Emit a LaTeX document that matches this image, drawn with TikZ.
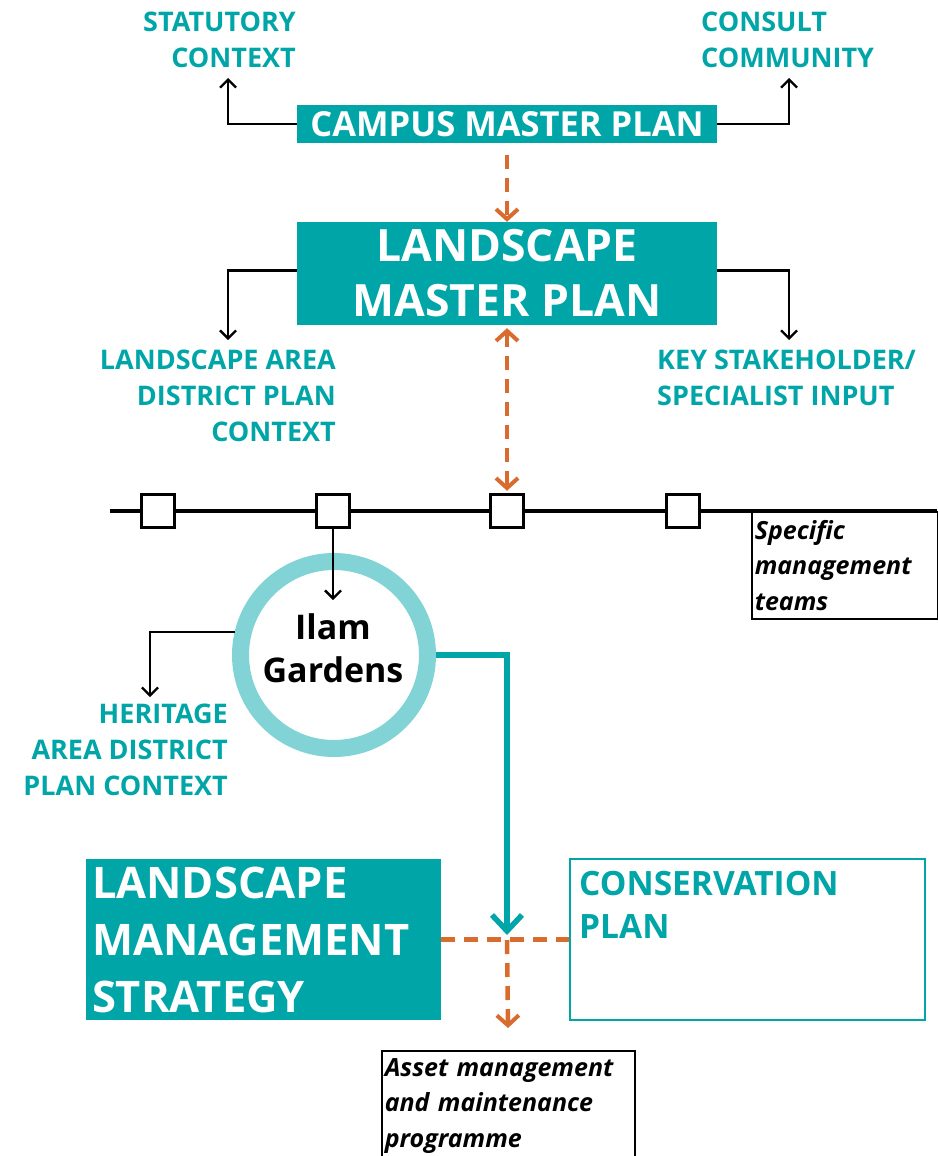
\documentclass[tikz,border=0pt]{standalone}
\usepackage{fontspec}
\setmainfont{Open Sans}
\usetikzlibrary{arrows.meta}
\definecolor{tealD}{HTML}{00A5A8}
\definecolor{tealL}{HTML}{82D3D5}
\definecolor{orng}{HTML}{DA6B2E}
\tikzset{
  tealbox/.style={fill=tealD, text=white, inner sep=0pt, font=\bfseries},
  lbl/.style={text=tealD, inner sep=0pt, font=\bfseries\fontsize{27}{36}\selectfont},
  blk/.style={draw=black, line width=2.3pt, -{Straight Barb[length=8pt,width=16pt,line width=2.3pt]}},
  ordash/.style={draw=orng, line width=4.5pt, dash pattern=on 14pt off 9pt},
  orarr/.style={ordash, -{Straight Barb[length=10pt,width=22pt,line width=4pt]}},
  sq/.style={draw=black, fill=white, line width=3.5pt, minimum size=33pt, inner sep=0pt},
  itbox/.style={draw=black, line width=1.5pt, inner sep=0pt, font=\bfseries\itshape\fontsize{25}{35.5}\selectfont},
}
\begin{document}
\begin{tikzpicture}[x=1pt,y=-1pt]
\useasboundingbox (0,0) rectangle (937,1156);
% top
\node[tealbox, minimum width=420pt, minimum height=38pt, font=\bfseries\fontsize{34.5}{40}\selectfont] (cmp) at (507,124) {CAMPUS MASTER PLAN};
\node[lbl, align=right, anchor=east] (stat) at (296,40) {STATUTORY\\CONTEXT};
\node[lbl, align=left, anchor=west] (cons1) at (701,40) {CONSULT\\COMMUNITY};
\coordinate (sa) at (228,78);
\coordinate (ca) at (789,78);
\draw[blk] (cmp.west) -| (sa);
\draw[blk] (cmp.east) -| (ca);
% landscape master plan
\node[tealbox, minimum width=420pt, minimum height=103pt, align=center, font=\bfseries\fontsize{44.5}{55}\selectfont] (lmp) at (507,273.5) {LANDSCAPE\\MASTER PLAN};
\draw[orarr, shorten <=12pt] (cmp.south) -- (lmp.north);
\node[lbl, align=right, anchor=east] (lad) at (336,396) {LANDSCAPE AREA\\DISTRICT PLAN\\CONTEXT};
\node[lbl, align=left, anchor=west] (key) at (657,378) {KEY STAKEHOLDER/\\SPECIALIST INPUT};
\coordinate (la) at (228,340);
\coordinate (ka) at (789,340);
\draw[blk] ([yshift=3pt]lmp.west) -| (la);
\draw[blk] ([yshift=3pt]lmp.east) -| (ka);
% timeline
\draw[line width=3.5pt] (110,511) -- (937,511);
\node[sq] (s1) at (158,511) {};
\node[sq] (s2) at (333,511) {};
\node[sq] (s3) at (507,511) {};
\node[sq] (s4) at (683,511) {};
\draw[ordash, {Straight Barb[length=10pt,width=22pt,line width=4pt]}-{Straight Barb[length=10pt,width=22pt,line width=4pt]}, shorten <=3pt, shorten >=2pt] (lmp.south) -- (s3.north);
\node[itbox, anchor=north west, minimum width=186pt, minimum height=107pt, align=left, text width=180pt] (smt) at (751,511) {Specific\\management\\teams};
% Ilam
\node[circle, draw=tealL, line width=17pt, fill=white, minimum size=187pt, inner sep=0pt] (ilam) at (334,655) {};
\node[inner sep=0pt, align=center, font=\bfseries\fontsize{34}{43}\selectfont] (ilamt) at (333,648.5) {Ilam\\Gardens};
\coordinate (ia) at (333,600);
\draw[blk] (s2.south) -- (ia);
\coordinate (ha) at (150,697);
\draw[blk] (ilam.167) -| (ha);
\node[lbl, align=right, anchor=east] (her) at (228,750) {HERITAGE\\AREA DISTRICT\\PLAN CONTEXT};
% bottom
\node[tealbox, minimum width=355pt, minimum height=161pt, text width=343pt, align=left, font=\bfseries\fontsize{43.5}{57}\selectfont] (lms) at (263.5,939.5) {LANDSCAPE\\MANAGEMENT\\STRATEGY};
\node[draw=tealD, line width=2.5pt, fill=white, minimum width=355pt, minimum height=161pt] (cons) at (747.5,939.5) {};
\node[text=tealD, inner sep=0pt, anchor=north west, align=left, font=\bfseries\fontsize{33.5}{43}\selectfont] (ctext) at (579,871) {CONSERVATION\\PLAN};
\coordinate (j) at (507,940);
\coordinate (tj) at (507,935);
\draw[ordash] (lms.east) -- (cons.west);
\draw[draw=tealD, line width=5.5pt, -{Straight Barb[length=16pt,width=30pt,line width=5.5pt]}] (ilam.east) -| (tj);
\node[itbox, anchor=north west, minimum width=253pt, minimum height=110pt, align=left, text width=247pt] (asset) at (381,1050) {Asset management\\and maintenance\\programme};
\draw[orarr, shorten >=22pt] (j) -- (asset.north);
\end{tikzpicture}
\end{document}
